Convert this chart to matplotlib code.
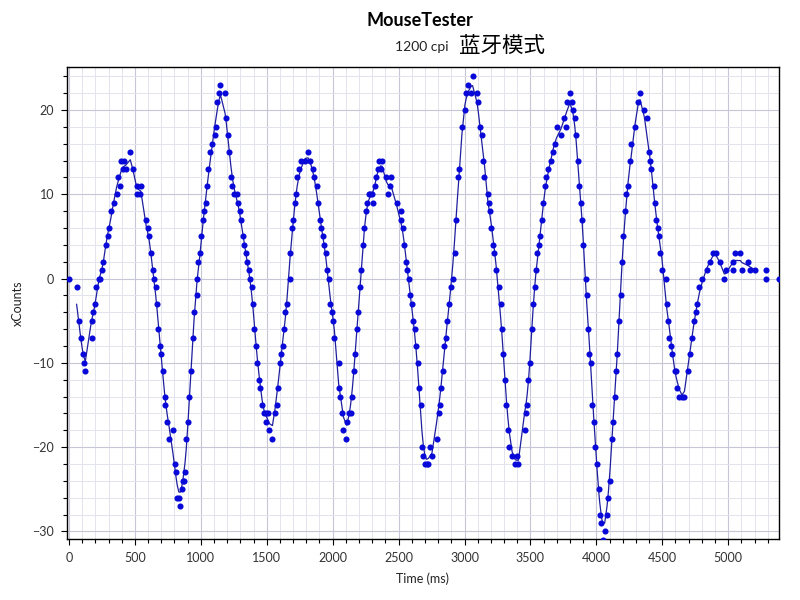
import numpy as np
import matplotlib
matplotlib.use("Agg")
import matplotlib.pyplot as plt
from matplotlib.ticker import MultipleLocator

plt.rcParams["font.family"] = ["Lato", "Noto Sans CJK SC", "DejaVu Sans"]

# samples: time in ms, counts per report
time_ms = [
    0, 58, 78, 91, 104, 114, 124, 172, 174, 184, 194, 205, 227, 237, 250, 260,
    280, 293, 303, 316, 338, 361, 371, 384, 394, 407, 417, 429, 465, 485, 515, 515,
    540, 545, 586, 596, 609, 621, 639, 644, 657, 667, 677, 689, 700, 710, 725, 732,
    745, 758, 788, 801, 811, 821, 833, 843, 856, 866, 876, 880, 889, 902, 914, 924,
    937, 949, 970, 972, 982, 992, 1005, 1020, 1025, 1040,
    1048, 1058, 1068, 1081, 1104, 1116, 1126, 1139, 1149, 1184, 1194, 1207, 1217, 1227,
    1240, 1253, 1273, 1285, 1295, 1308, 1318, 1328, 1341, 1351, 1364, 1374, 1386, 1396,
    1407, 1419, 1429, 1439, 1452, 1465, 1480, 1492, 1497, 1506, 1520, 1543, 1563, 1576,
    1586, 1598, 1608, 1621, 1631, 1641, 1654, 1674, 1677, 1692, 1699, 1712, 1725, 1732,
    1745, 1758, 1793, 1813, 1828, 1848, 1861, 1879, 1891, 1904, 1914, 1927, 1937, 1947,
    1960, 1970, 1980, 1992, 2002, 2013, 2045, 2048, 2058, 2068, 2081, 2104, 2111, 2126,
    2136, 2149,
    2159, 2172, 2184, 2194, 2205, 2215, 2227, 2240, 2250, 2263, 2273, 2284, 2296, 2308,
    2318, 2328, 2341, 2351, 2364, 2376, 2404, 2419, 2432, 2439, 2485, 2518, 2521, 2533,
    2543, 2553, 2566, 2578, 2588, 2598, 2611, 2621, 2631, 2644, 2654, 2667, 2677, 2687,
    2699, 2712, 2725, 2735, 2753, 2788, 2803, 2813, 2823, 2833, 2843, 2856, 2866, 2881,
    2899, 2911, 2924, 2934, 2947, 2957, 2980, 3003, 3013, 3028, 3051, 3061, 3093, 3104,
    3119, 3134, 3139, 3149,
    3177, 3187, 3194, 3204, 3215, 3227, 3240, 3260, 3273, 3283, 3295, 3306, 3318, 3328,
    3341, 3361, 3384, 3396, 3409, 3455, 3467, 3475, 3485, 3495, 3508, 3520, 3533, 3543,
    3553, 3563, 3576, 3586, 3598, 3609, 3619, 3631, 3652, 3674, 3687, 3699, 3732, 3753,
    3768, 3775, 3798, 3818, 3823, 3836, 3846, 3859, 3869, 3881, 3892, 3902, 3924, 3927,
    3934, 3947, 3957, 3970, 3980, 3993, 4005, 4020, 4025, 4038, 4048, 4063, 4081, 4091,
    4104, 4116, 4129, 4139, 4149, 4159, 4172, 4184, 4194, 4205, 4215, 4225, 4240, 4255,
    4263,
    4293, 4318, 4331, 4364, 4386, 4396, 4404, 4417, 4434, 4442, 4455, 4465, 4475, 4485,
    4497, 4531, 4533, 4543, 4553, 4563, 4575, 4595, 4604, 4612, 4628, 4649, 4668, 4695,
    4712, 4726, 4737, 4752, 4766, 4781, 4800, 4836, 4860, 4888, 4904, 4934, 4970, 4982,
    5033, 5036, 5049, 5092, 5104, 5149, 5162, 5205, 5285, 5286, 5386,
]
x_counts = [
    0, -1, -5, -7, -9, -10, -11, -7, -5, -4, -3, -1, 0, 0, 1, 2,
    4, 5, 6, 8, 9, 10, 12, 11, 14, 13, 14, 13, 15, 13, 11, 10,
    10, 11, 7, 6, 5, 3, 1, 0, -1, -3, -6, -8, -9, -11, -14, -15,
    -17, -19, -18, -22, -23, -26, -26, -27, -25, -24, -24, -23, -19, -17, -14, -11,
    -7, -4, -2, 0, 2, 3, 5, 7, 8, 9,
    11, 13, 15, 16, 17, 18, 21, 22, 23, 22, 19, 17, 15, 12,
    11, 10, 10, 9, 8, 7, 5, 4, 3, 2, 1, 0, -1, -3,
    -6, -8, -10, -12, -13, -15, -16, -16, -17, -16, -18, -19, -16, -15,
    -13, -10, -9, -8, -6, -4, -3, 0, 3, 6, 7, 9, 10, 12,
    13, 14, 14, 15, 14, 13, 12, 11, 9, 7, 6, 5, 4, 3,
    1, 0, -3, -4, -5, -7, -10, -13, -14, -16, -18, -19, -17, -16,
    -16, -14,
    -11, -9, -6, -4, -1, 1, 4, 6, 8, 9, 10, 10, 10, 9,
    11, 12, 13, 14, 13, 14, 12, 10, 11, 12, 9, 8, 7, 6,
    4, 2, 1, 0, -2, -3, -5, -6, -8, -10, -13, -15, -20, -21,
    -22, -22, -22, -20, -21, -19, -16, -15, -13, -11, -8, -7, -5, -3,
    -1, 0, 3, 7, 12, 13, 18, 20, 22, 23, 22, 24, 22, 21,
    18, 17, 14, 12,
    10, 9, 8, 6, 4, 3, 1, -1, -3, -6, -9, -12, -15, -18,
    -20, -21, -22, -21, -22, -18, -16, -15, -12, -10, -6, -3, -1, 1,
    3, 4, 5, 7, 9, 11, 12, 13, 14, 15, 16, 18, 17, 19,
    18, 21, 22, 21, 20, 19, 17, 14, 11, 9, 7, 4, 0, -2,
    -6, -9, -10, -15, -17, -20, -22, -25, -28, -29, -31, -30, -28, -26,
    -24, -19, -17, -14, -11, -9, -5, -2, 2, 5, 8, 10, 11, 14,
    16,
    18, 21, 22, 20, 19, 15, 14, 13, 11, 9, 7, 6, 5, 3,
    1, 0, -3, -5, -7, -8, -9, -11, -11, -13, -14, -14, -14, -11,
    -9, -7, -5, -4, -3, -1, 0, 1, 2, 3, 3, 2, 0, 1,
    1, 2, 3, 3, 1, 2, 1, 1, 1, 0, 0,
]

x_ticks = [0, 500, 1000, 1500, 2000, 2500, 3000, 3500, 4000, 4500, 5000]
y_ticks = [-30, -20, -10, 0, 10, 20]


def smooth(t, v, sigma=18.0):
    # gaussian weighted average over neighbouring reports
    t = np.asarray(t, dtype=float)
    v = np.asarray(v, dtype=float)
    d = t[:, None] - t[None, :]
    w = np.exp(-0.5 * (d / sigma) ** 2)
    return (w @ v) / w.sum(axis=1)


t = np.array(time_ms, dtype=float)
v = np.array(x_counts, dtype=float)
fit = smooth(t, v)
line_end = int(np.searchsorted(t, 5205, side="right"))

fig = plt.figure(figsize=(8, 6), dpi=100)
ax = fig.add_axes([67 / 800, 61 / 600, 712 / 800, 472 / 600])

ax.plot(t[1:line_end], fit[1:line_end], color="#1f1f9e", lw=0.9, zorder=2)
ax.plot(t, v, "o", ms=4.4, color="#0808d8", mec="none", zorder=3)

ax.set_xlim(-15, 5385)
ax.set_ylim(-30.9, 25.1)
ax.set_xticks(x_ticks)
ax.set_yticks(y_ticks)
ax.xaxis.set_minor_locator(MultipleLocator(100))
ax.yaxis.set_minor_locator(MultipleLocator(2))

ax.grid(which="major", color="#c6c6d6", lw=0.8)
ax.grid(which="minor", color="#e3e3ee", lw=0.7)
ax.set_axisbelow(True)

ax.tick_params(which="major", length=4.2, width=0.8, pad=5, labelsize=9, labelcolor="#333333")
ax.tick_params(which="minor", length=2.6, width=0.8)
for s in ax.spines.values():
    s.set_color("black")
    s.set_linewidth(1.0)

ax.set_xlabel("Time (ms)", fontsize=9, color="#222222", labelpad=6)
ax.set_ylabel("xCounts", fontsize=9, color="#222222", labelpad=6)

fig.text(420 / 800, 1 - 21 / 600, "MouseTester", ha="center", va="center",
         fontsize=13, fontweight="bold", color="black")
fig.text(395 / 800, 1 - 47 / 600, "1200 cpi", ha="left", va="center",
         fontsize=10, color="#222222")
fig.text(459 / 800, 1 - 46 / 600, "蓝牙模式", ha="left", va="center",
         fontsize=15.5, color="black", family=["Noto Sans CJK SC", "DejaVu Sans"])

fig.savefig("out.png", dpi=100)
